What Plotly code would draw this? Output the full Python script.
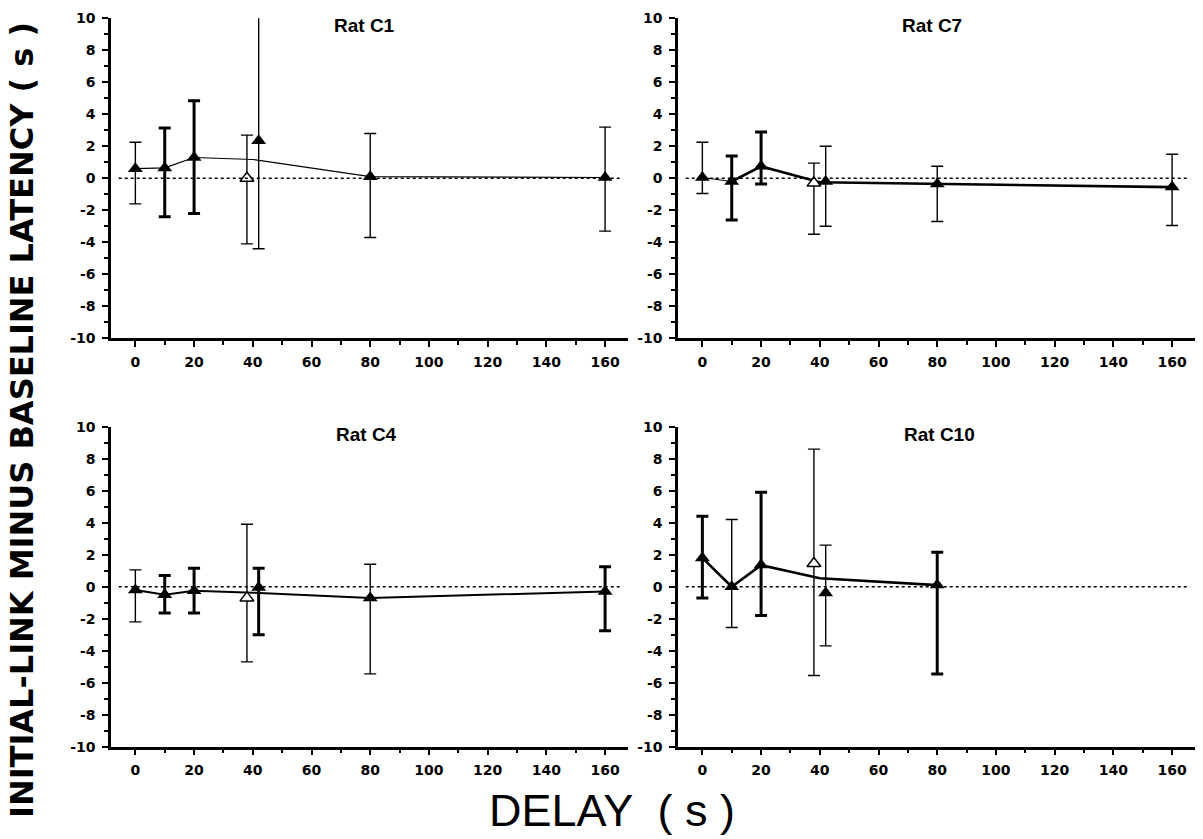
import plotly.graph_objects as go

# ---------------- data ----------------
DELAYS = [0, 10, 20, 40, 80, 160]
X_TICKS = [0, 20, 40, 60, 80, 100, 120, 140, 160]
Y_TICKS = [-10, -8, -6, -4, -2, 0, 2, 4, 6, 8, 10]

RATS = ["Rat C1", "Rat C7", "Rat C4", "Rat C10"]

# filled-triangle condition (mean, upper end of bar, lower end of bar)
C1_mean = [0.6, 0.65, 1.3, 2.35, 0.1, 0.05]
C1_upper = [2.25, 3.15, 4.85, 10.5, 2.8, 3.2]
C1_lower = [-1.6, -2.4, -2.2, -4.4, -3.7, -3.3]
C1_open = [0.0, 2.7, -4.1]          # open triangle at 40 s: mean, upper, lower

C7_mean = [0.05, -0.2, 0.75, -0.2, -0.35, -0.55]
C7_upper = [2.25, 1.4, 2.9, 2.0, 0.75, 1.5]
C7_lower = [-0.95, -2.6, -0.35, -3.0, -2.7, -2.95]
C7_open = [-0.3, 0.95, -3.5]

C4_mean = [-0.2, -0.5, -0.25, -0.05, -0.7, -0.3]
C4_upper = [1.05, 0.7, 1.15, 1.15, 1.4, 1.25]
C4_lower = [-2.2, -1.65, -1.65, -3.0, -5.45, -2.75]
C4_open = [-0.7, 3.9, -4.7]

C10_mean = [1.8, 0.0, 1.35, -0.4, 0.1]
C10_upper = [4.4, 4.2, 5.9, 2.6, 2.15]
C10_lower = [-0.7, -2.55, -1.8, -3.7, -5.45]
C10_open = [1.45, 8.6, -5.55]

# ---------------- styles ----------------
THICK = {
    "Rat C1": [False, True, True, False, False, False],
    "Rat C7": [False, True, True, False, False, False],
    "Rat C4": [False, True, True, True, False, True],
    "Rat C10": [True, False, True, False, True],
}
LINE_W = {"Rat C1": 1.2, "Rat C7": 2.6, "Rat C4": 2.0, "Rat C10": 2.6}

DATA = {
    "Rat C1": (C1_mean, C1_upper, C1_lower, C1_open),
    "Rat C7": (C7_mean, C7_upper, C7_lower, C7_open),
    "Rat C4": (C4_mean, C4_upper, C4_lower, C4_open),
    "Rat C10": (C10_mean, C10_upper, C10_lower, C10_open),
}

W, H = 1203, 839
def px_x(p): return p / W
def px_y(p): return 1 - p / H

DOMAINS = {
    "Rat C1": ([px_x(111), px_x(628)], [px_y(338.3), px_y(18.3)]),
    "Rat C7": ([px_x(678), px_x(1195)], [px_y(338.3), px_y(18.3)]),
    "Rat C4": ([px_x(111), px_x(628)], [px_y(746.7), px_y(426.7)]),
    "Rat C10": ([px_x(678), px_x(1195)], [px_y(746.7), px_y(426.7)]),
}
TITLE_POS = {"Rat C1": (364, 26), "Rat C7": (932, 26), "Rat C4": (366, 434), "Rat C10": (939, 434)}

XR = [-8.3, 167.8]
SPLIT = 2  # horizontal separation of the two 40-s conditions

fig = go.Figure()
layout = dict(width=W, height=H, margin=dict(l=0, r=0, t=0, b=0, autoexpand=False),
              paper_bgcolor="white", plot_bgcolor="white", showlegend=False)

TICKFONT = dict(family="DejaVu Sans", size=14, color="black")

for i, rat in enumerate(RATS):
    k = "" if i == 0 else str(i + 1)
    xa, ya = "x" + k, "y" + k
    mean, upper, lower, opn = DATA[rat]
    n = len(mean)
    xs = [DELAYS[j] + (SPLIT if DELAYS[j] == 40 else 0) for j in range(n)]

    # connecting line: uses average of both conditions at 40 s
    line_y = [(mean[j] + opn[0]) / 2 if DELAYS[j] == 40 else mean[j] for j in range(n)]
    if rat == "Rat C7":
        fig.add_trace(go.Scatter(x=DELAYS[:2], y=line_y[:2], mode="lines",
                                 line=dict(color="black", width=1.2), xaxis=xa, yaxis=ya, hoverinfo="skip"))
        fig.add_trace(go.Scatter(x=DELAYS[1:n], y=line_y[1:], mode="lines",
                                 line=dict(color="black", width=LINE_W[rat]), xaxis=xa, yaxis=ya, hoverinfo="skip"))
    else:
        fig.add_trace(go.Scatter(x=DELAYS[:n], y=line_y, mode="lines",
                                 line=dict(color="black", width=LINE_W[rat]), xaxis=xa, yaxis=ya, hoverinfo="skip"))

    # open triangle (40 s, other condition)
    fig.add_trace(go.Scatter(
        x=[40 - SPLIT], y=[opn[0]], mode="markers", cliponaxis=False,
        marker=dict(symbol="triangle-up", size=12, color="white", line=dict(color="black", width=1.5)),
        error_y=dict(type="data", symmetric=False, array=[opn[1] - opn[0]], arrayminus=[opn[0] - opn[2]],
                     color="black", thickness=1.4, width=6),
        xaxis=xa, yaxis=ya))

    # filled triangles, split by error-bar thickness
    for thick in (False, True):
        idx = [j for j in range(n) if THICK[rat][j] == thick]
        if not idx:
            continue
        fig.add_trace(go.Scatter(
            x=[xs[j] for j in idx], y=[mean[j] for j in idx], mode="markers", cliponaxis=False,
            marker=dict(symbol="triangle-up", size=13, color="black"),
            error_y=dict(type="data", symmetric=False,
                         array=[upper[j] - mean[j] for j in idx],
                         arrayminus=[mean[j] - lower[j] for j in idx],
                         color="black", thickness=3 if thick else 1.4, width=6),
            xaxis=xa, yaxis=ya))

    xd, yd = DOMAINS[rat]
    layout["xaxis" + k] = dict(domain=xd, anchor=ya, range=XR, showgrid=False, zeroline=False,
                               showline=True, linecolor="black", linewidth=2.5,
                               tickmode="array", tickvals=X_TICKS, ticktext=["<b>%d</b>" % v for v in X_TICKS],
                               ticks="outside", ticklen=6, tickwidth=2, tickcolor="black",
                               ticklabelstandoff=3, tickfont=TICKFONT,
                               minor=dict(ticks="outside", ticklen=4, tickwidth=1.5, tickcolor="black",
                                          tickmode="linear", tick0=0, dtick=10))
    layout["yaxis" + k] = dict(domain=yd, anchor=xa, range=[-10, 10], showgrid=False, zeroline=False,
                               showline=True, linecolor="black", linewidth=2.5,
                               tickmode="array", tickvals=Y_TICKS, ticktext=["<b>%d</b>" % v for v in Y_TICKS],
                               ticks="outside", ticklen=6, tickwidth=2, tickcolor="black",
                               ticklabelstandoff=4, tickfont=TICKFONT,
                               minor=dict(ticks="outside", ticklen=4, tickwidth=1.5, tickcolor="black",
                                          tickmode="linear", tick0=0, dtick=1))

layout["shapes"] = []
layout["annotations"] = []
for i, rat in enumerate(RATS):
    k = "" if i == 0 else str(i + 1)
    layout["shapes"].append(dict(type="line", xref="x" + k + " domain", yref="y" + k,
                                 x0=0.015, x1=0.99, y0=0, y1=0,
                                 line=dict(color="black", width=1.5, dash="dot")))
    tx, ty = TITLE_POS[rat]
    layout["annotations"].append(dict(text="<b>%s</b>" % rat, x=px_x(tx), y=px_y(ty), xref="paper", yref="paper",
                                      showarrow=False, xanchor="center", yanchor="middle",
                                      font=dict(family="Liberation Sans", size=19, color="black")))

layout["annotations"].append(dict(text="<b>INITIAL-LINK MINUS BASELINE LATENCY ( s )</b>", textangle=-90,
                                  x=px_x(22), y=px_y(420), xref="paper", yref="paper", showarrow=False,
                                  xanchor="center", yanchor="middle",
                                  font=dict(family="DejaVu Sans", size=32, color="black")))
layout["annotations"].append(dict(text="DELAY  ( s )", x=px_x(612), y=px_y(810), xref="paper", yref="paper",
                                  showarrow=False, xanchor="center", yanchor="middle",
                                  font=dict(family="Liberation Sans", size=45, color="black")))

fig.update_layout(**layout)
fig.write_html("out.html", config={"displayModeBar": False},
               post_script="document.documentElement.style.margin='0px';document.body.style.margin='0px';"
                           "document.documentElement.style.overflow='hidden';document.body.style.overflow='hidden';")
